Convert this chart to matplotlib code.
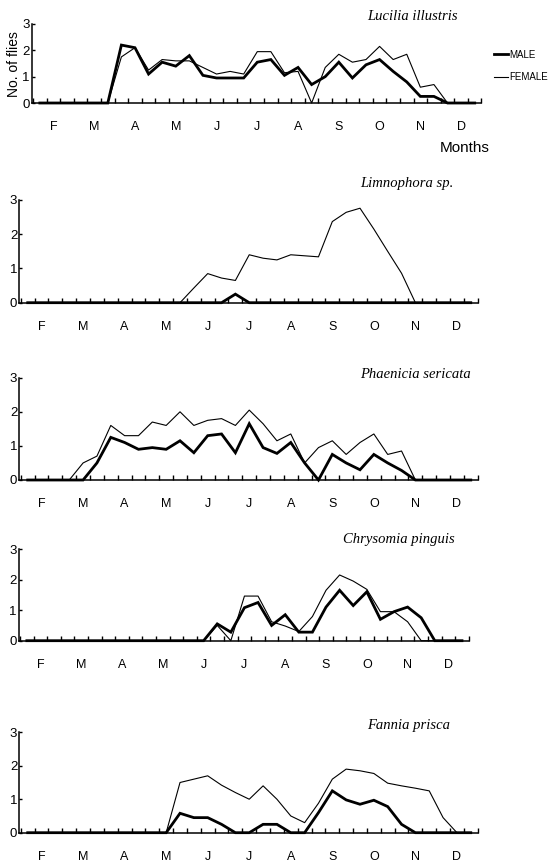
import matplotlib
matplotlib.use("Agg")
import matplotlib.pyplot as plt
import numpy as np

plt.rcParams['font.family'] = ['Liberation Sans', 'DejaVu Sans']

# ten-day periods, 3 per month, starting late January
months = ['F', 'M', 'A', 'M', 'J', 'J', 'A', 'S', 'O', 'N', 'D']
month_pos = [1 + 3 * i for i in range(len(months))]
period = np.arange(33)

species = ['Lucilia illustris', 'Limnophora sp.', 'Phaenicia sericata',
           'Chrysomia pinguis', 'Fannia prisca']

male_lucilia = [0, 0, 0, 0, 0, 0, 2.2, 2.1, 1.1, 1.55, 1.4, 1.8, 1.05, 0.95, 0.95, 0.95,
                1.55, 1.65, 1.05, 1.35, 0.7, 1.0, 1.55, 0.95, 1.45, 1.65, 1.2, 0.8, 0.25,
                0.25, 0, 0, 0]
female_lucilia = [0, 0, 0, 0, 0, 0, 1.75, 2.1, 1.25, 1.65, 1.6, 1.6, 1.35, 1.1, 1.2, 1.1,
                  1.95, 1.95, 1.15, 1.2, 0, 1.35, 1.85, 1.55, 1.65, 2.15, 1.65, 1.85, 0.6,
                  0.7, 0, 0, 0]

male_limno = [0, 0, 0, 0, 0, 0, 0, 0, 0, 0, 0, 0, 0, 0, 0, 0.25, 0, 0, 0, 0, 0, 0, 0, 0,
              0, 0, 0, 0, 0, 0, 0, 0, 0]
female_limno = [0, 0, 0, 0, 0, 0, 0, 0, 0, 0, 0, 0, 0.43, 0.85, 0.72, 0.65, 1.4, 1.3, 1.25,
                1.4, 1.37, 1.34, 2.37, 2.64, 2.76, 2.15, 1.5, 0.86, 0, 0, 0, 0, 0]

male_phaen = [0, 0, 0, 0, 0, 0.5, 1.25, 1.1, 0.9, 0.95, 0.9, 1.15, 0.8, 1.3, 1.35, 0.8,
              1.65, 0.95, 0.78, 1.1, 0.5, 0, 0.75, 0.5, 0.3, 0.75, 0.5, 0.28, 0, 0, 0, 0, 0]
female_phaen = [0, 0, 0, 0, 0.5, 0.7, 1.6, 1.3, 1.3, 1.7, 1.6, 2.0, 1.6, 1.75, 1.8, 1.6,
                2.05, 1.65, 1.15, 1.35, 0.5, 0.95, 1.15, 0.75, 1.1, 1.35, 0.75, 0.85, 0, 0,
                0, 0, 0]

male_chrys = [0, 0, 0, 0, 0, 0, 0, 0, 0, 0, 0, 0, 0, 0, 0.55, 0.28, 1.08, 1.25, 0.5, 0.85,
              0.28, 0.28, 1.1, 1.65, 1.15, 1.6, 0.7, 0.95, 1.1, 0.75, 0, 0, 0]
female_chrys = [0, 0, 0, 0, 0, 0, 0, 0, 0, 0, 0, 0, 0, 0, 0.5, 0, 1.46, 1.46, 0.62, 0.48,
                0.3, 0.79, 1.65, 2.15, 1.95, 1.68, 0.95, 0.95, 0.62, 0, 0, 0, 0]

male_fannia = [0, 0, 0, 0, 0, 0, 0, 0, 0, 0, 0, 0.58, 0.45, 0.45, 0.25, 0, 0, 0.25, 0.25,
               0, 0, 0.6, 1.25, 0.98, 0.85, 0.97, 0.78, 0.25, 0, 0, 0, 0, 0]
female_fannia = [0, 0, 0, 0, 0, 0, 0, 0, 0, 0, 0, 1.5, 1.6, 1.7, 1.42, 1.2, 1.0, 1.4, 1.0,
                 0.5, 0.3, 0.88, 1.6, 1.9, 1.85, 1.77, 1.48, 1.4, 1.33, 1.25, 0.45, 0, 0]

males = [male_lucilia, male_limno, male_phaen, male_chrys, male_fannia]
females = [female_lucilia, female_limno, female_phaen, female_chrys, female_fannia]

W, H = 553, 864
fig = plt.figure(figsize=(W / 100, H / 100), dpi=100)

# axes boxes in pixels: left, right, y of 3, y of 0
boxes = [(31.7, 481.5, 24, 103),
         (19.4, 477.7, 200, 302.7),
         (19.4, 477.7, 377.7, 480),
         (18.7, 468.8, 549, 640.7),
         (19.4, 477.7, 732.3, 832.7)]
title_pos = [(458, 17), (453, 183), (471, 375), (455, 539), (450, 725)]

for i, (l, r, t, b) in enumerate(boxes):
    ax = fig.add_axes([l / W, 1 - b / H, (r - l) / W, (b - t) / H])
    ax.plot(period, males[i], color='black', lw=2.0, clip_on=False,
            solid_joinstyle='miter', label='MALE')
    ax.plot(period, females[i], color='black', lw=0.8, clip_on=False, label='FEMALE')
    ax.set_xlim(-0.6, 32.4)
    ax.set_ylim(0, 3)
    for s in ['top', 'right']:
        ax.spines[s].set_visible(False)
    for s in ['left', 'bottom']:
        ax.spines[s].set_linewidth(1.1)
    ax.set_xticks(month_pos)
    ax.set_xticklabels(months, fontsize=9)
    ax.set_xticks(np.arange(-0.5, 32.6, 1), minor=True)
    ax.tick_params(axis='x', which='major', length=0, pad=13)
    ax.tick_params(axis='x', which='minor', direction='in', length=3.5, width=1)
    ax.set_yticks([0, 1, 2, 3])
    ax.tick_params(axis='y', direction='in', length=2.5, width=1, labelsize=9.5, pad=1.5)
    tx, ty = title_pos[i]
    fig.text(tx / W, 1 - ty / H, species[i], ha='right', va='center',
             family='Liberation Serif', style='italic', fontsize=10.5)
    if i == 0:
        fig.text(14 / W, 1 - 64 / H, 'No. of flies', rotation=90, ha='center',
                 va='center', fontsize=10)
        ax.legend(loc='center left', bbox_to_anchor=(1.02, 0.47), frameon=False,
                  handlelength=1.4, handletextpad=0.1, labelspacing=1.3,
                  borderaxespad=0, fontsize=7)
        fig.text(465 / W, 1 - 148 / H, 'Months', ha='center', va='center', fontsize=11)

fig.savefig('out.png', dpi=100)
